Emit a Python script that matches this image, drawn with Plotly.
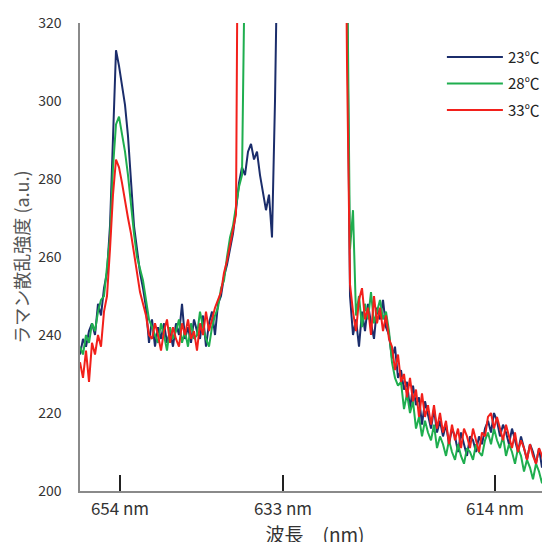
import plotly.graph_objects as go

# x grid: detector channel (pixel-like units across the plot)
channel = list(range(0, 472, 3))

tick_channels = [40, 203, 415]
tick_labels = ["654 nm", "633 nm", "614 nm"]

y_ticks = [200, 220, 240, 260, 280, 300, 320]

series_names = ["23℃", "28℃", "33℃"]
series_colors = ["#1b2d6b", "#1fae4f", "#f2201b"]

blue_23 = [
    235, 239, 237, 241, 243, 240, 248, 245, 252, 256, 268, 288, 313, 309, 304, 299, 291, 280, 268, 262, 256, 252, 247, 238,
    244, 237, 242, 239, 243, 238, 241, 237, 243, 240, 248, 239, 242, 238, 244, 241, 239, 245, 237, 243, 246, 240,
    248, 250, 255, 258, 262, 266, 272,
    279, 283, 281, 287, 289, 285, 287, 281, 277, 272, 276, 265, 300, 400,
    400, 400, 400, 400, 400, 400, 400, 400, 400, 400, 400, 400, 400, 400, 400, 400, 400, 400, 400, 400, 400, 400,
    330, 250,
    240, 244, 237, 246, 241, 248, 243, 239, 247, 244, 249, 242, 240,
    234, 237, 229, 231, 226, 228, 221, 227, 222, 224,
    217, 223, 219, 216, 221, 215, 218, 214, 217, 212,
    216, 214, 210, 215, 212, 209, 214, 213, 210, 214,
    212, 216, 218, 215, 220, 218, 214, 217, 215, 212,
    216, 213, 210, 214, 211, 208, 212, 210, 207, 211,
    206, 209, 207, 208,
]

green_28 = [
    237, 235, 240, 238, 243, 241, 246, 249, 250, 257, 265, 283, 294, 296, 292, 287, 281, 273, 266, 260, 257, 254, 249, 244,
    242, 240, 238, 243, 240, 236, 242, 239, 241, 244, 238, 241, 237, 243, 239, 240, 246, 242, 239, 237, 242, 245,
    247, 252, 254, 260, 265, 268, 273,
    278, 281,
    400, 400, 400, 400, 400, 400, 400, 400, 400, 400, 400, 400, 400, 400, 400, 400, 400,
    400, 400, 400, 400, 400, 400, 400, 400, 400, 400, 400, 400, 400, 400, 400, 400, 400,
    340, 262,
    272, 245, 250, 242, 248, 244, 251, 243, 246, 249, 244, 246, 241,
    233, 229, 227, 228, 221, 225, 220, 223, 216, 219,
    214, 218, 215, 213, 217, 211, 214, 212, 209, 213,
    210, 208, 212, 209, 207, 211, 210, 208, 212, 210,
    209, 213, 215, 212, 216, 213, 211, 214, 209, 212,
    210, 207, 211, 209, 205, 208, 206, 203, 207, 205,
    202, 206, 204, 205,
]

red_33 = [
    233, 229, 236, 228, 238, 235, 240, 237, 246, 250, 262, 276, 285, 283, 279, 274, 270, 266, 261, 256, 251, 248, 245, 240,
    239, 243, 240, 236, 241, 244, 238, 242, 239, 237, 243, 240, 244, 239, 241, 236, 243, 240, 246, 241, 244, 247,
    249, 251, 256, 259, 263, 267, 271,
    400, 400, 400, 400, 400, 400, 400, 400, 400, 400, 400, 400, 400, 400, 400, 400, 400, 400,
    400, 400, 400, 400, 400, 400, 400, 400, 400, 400, 400, 400, 400, 400, 400, 400, 400, 400,
    310, 253,
    246, 241, 249, 252, 244, 247, 240, 250, 243, 247, 241, 245, 239,
    237, 231, 235, 228, 230, 224, 229, 223, 226, 219,
    225, 219, 222, 217, 222, 216, 220, 215, 218, 212,
    217, 213, 216, 211, 216, 214, 211, 216, 213, 210,
    215, 214, 219, 220, 216, 219, 216, 213, 217, 214,
    211, 215, 210, 213, 211, 208, 212, 209, 207, 211,
    209, 206, 209, 207,
]

series_values = [blue_23, green_28, red_33]

FONT = "Noto Sans CJK JP, Noto Sans, sans-serif"

fig = go.Figure()
for name, color, vals in zip(series_names, series_colors, series_values):
    fig.add_trace(go.Scatter(
        x=channel, y=vals, mode="lines", name=name, legendgroup=name,
        line=dict(color=color, width=2),
    ))

fig.update_layout(
    width=542, height=542,
    margin=dict(l=72, r=0, t=15, b=59, autoexpand=False),
    paper_bgcolor="white", plot_bgcolor="white",
    font=dict(family=FONT, color="#333", size=14),
    showlegend=True,
    legend=dict(
        x=0.77, y=0.962, xanchor="left", yanchor="top",
        font=dict(size=15, color="#222", family=FONT),
        bgcolor="rgba(0,0,0,0)", tracegroupgap=4, itemwidth=56,
    ),
    xaxis=dict(
        range=[0, 470], tickmode="array", tickvals=tick_channels, ticktext=tick_labels,
        automargin=False,
        showgrid=False, zeroline=False, showline=True, linecolor="#8a8a8a", linewidth=1.5,
        ticks="inside", ticklen=16, tickwidth=1.5, tickcolor="#222",
        tickfont=dict(size=17, color="#333"), ticklabelstandoff=2,
        title=dict(text="波長　(nm)", font=dict(size=19, color="#333"), standoff=10),
    ),
    yaxis=dict(
        range=[200, 320], tickmode="array", tickvals=y_ticks,
        automargin=False,
        showgrid=False, zeroline=False, showline=True, linecolor="#8a8a8a", linewidth=1.5,
        ticks="", ticklabelstandoff=14,
        tickfont=dict(size=14, color="#333"),
        title=dict(text="ラマン散乱強度 (a.u.)", font=dict(size=18, color="#555"), standoff=6),
    ),
)

fig.write_html("out.html")
